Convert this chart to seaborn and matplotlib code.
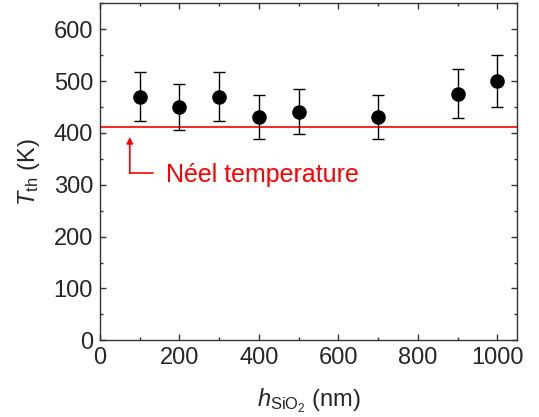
import matplotlib
matplotlib.use("Agg")
import matplotlib.pyplot as plt
from matplotlib.ticker import MultipleLocator
import seaborn as sns
import pandas as pd

# Threshold temperature vs. SiO2 thickness
thickness_nm = [100, 200, 300, 400, 500, 700, 900, 1000]
t_th = [470, 450, 470, 431, 441, 431, 476, 500]
t_err = [47, 45, 47, 43, 44, 43, 47, 50]
neel_temp = 412
neel_label = "Néel temperature"

sns.set_theme(style="ticks")
plt.rcParams["font.family"] = ["Liberation Sans", "DejaVu Sans"]
plt.rcParams["mathtext.fontset"] = "custom"
plt.rcParams["mathtext.rm"] = "Liberation Sans"
plt.rcParams["mathtext.it"] = "Liberation Sans:italic"

df = pd.DataFrame({"h": thickness_nm, "T": t_th, "err": t_err})

fig = plt.figure(figsize=(5.39, 4.17), dpi=100)
ax = fig.add_axes([0.1855, 0.184, 0.7743, 0.808])

ax.errorbar(df["h"], df["T"], yerr=df["err"], fmt="none", ecolor="black",
            elinewidth=1.0, capsize=4.5, capthick=1.0, zorder=2)
sns.scatterplot(data=df, x="h", y="T", ax=ax, color="black", s=110,
                edgecolor="black", linewidth=0, zorder=3)

ax.axhline(neel_temp, color="red", lw=1.2, zorder=1)

# Arrow pointing up to the Néel line, with its label
ax.annotate("", xy=(75, 392), xytext=(75, 322),
            arrowprops=dict(arrowstyle="-|>", color="red", lw=1.2,
                            mutation_scale=9, shrinkA=0, shrinkB=0))
ax.plot([75, 133], [322, 322], color="red", lw=1.2)
ax.text(166, 318, neel_label, color="red", fontsize=18, va="center", ha="left")

ax.set_xlim(0, 1050)
ax.set_ylim(0, 650)
ax.xaxis.set_major_locator(MultipleLocator(200))
ax.xaxis.set_minor_locator(MultipleLocator(100))
ax.yaxis.set_major_locator(MultipleLocator(100))
ax.yaxis.set_minor_locator(MultipleLocator(50))
ax.tick_params(which="both", direction="in", top=True, right=True,
               labelsize=17, width=1, color="#333333")
ax.tick_params(axis="x", which="major", length=4, pad=5)
ax.tick_params(axis="y", which="major", length=4, pad=5)
ax.tick_params(which="minor", length=2)
for sp in ax.spines.values():
    sp.set_linewidth(1)
    sp.set_color("#333333")

ax.set_xlabel(r"$h_{\mathrm{SiO_2}}$ (nm)", fontsize=17, labelpad=12)
ax.set_ylabel(r"$T_{\mathrm{th}}$ (K)", fontsize=17, labelpad=8)

fig.savefig("out.png", dpi=100)
